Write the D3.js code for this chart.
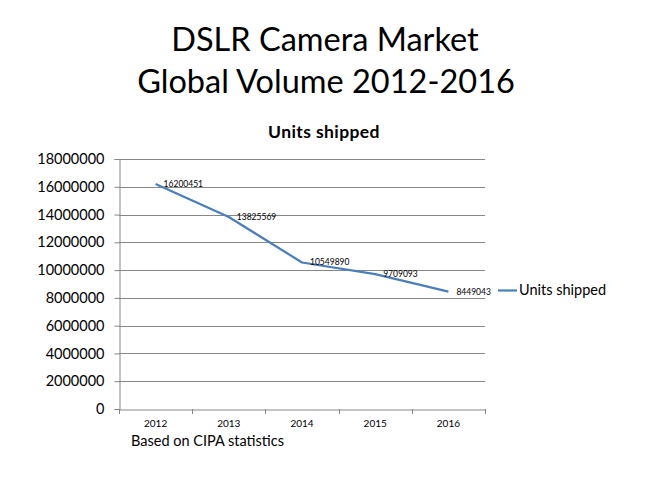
<!DOCTYPE html>
<html><head><meta charset="utf-8">
<script src="https://cdn.jsdelivr.net/npm/d3@7"></script>
<style>body{margin:0;background:#fff}svg{display:block}text{font-family:Lato,"Open Sans",sans-serif}</style>
</head><body><svg id="c" width="650" height="487"></svg>
<script>
const years = ["2012","2013","2014","2015","2016"];
const units = [16200451, 13825569, 10549890, 9709093, 8449043];
const yTicks = [0,2000000,4000000,6000000,8000000,10000000,12000000,14000000,16000000,18000000];
const seriesName = "Units shipped";

const svg = d3.select("#c");
const m = {l:119, r:485, t:159, b:409};
const x = d3.scaleBand().domain(years).range([m.l, m.r]);
const y = d3.scaleLinear().domain([0,18000000]).range([m.b, m.t]);
const grid = "#878787";

svg.append("text").attr("x",325).attr("y",51).attr("text-anchor","middle").attr("font-size",32.5).attr("fill","#000").text("DSLR Camera Market");
svg.append("text").attr("x",326).attr("y",93).attr("text-anchor","middle").attr("font-size",32.5).attr("fill","#000").text("Global Volume 2012-2016");
svg.append("text").attr("x",324).attr("y",138).attr("text-anchor","middle").attr("font-size",17.5).attr("letter-spacing",0.4).attr("font-weight","bold").text(seriesName);

// gridlines
svg.append("g").selectAll("line").data(yTicks.slice(1)).join("line")
  .attr("x1",m.l).attr("x2",m.r).attr("y1",d=>Math.round(y(d))+0.5).attr("y2",d=>Math.round(y(d))+0.5)
  .attr("stroke",grid).attr("stroke-width",1);

const ya = svg.append("g").attr("transform",`translate(${m.l+0.5},0)`)
  .call(d3.axisLeft(y).tickValues(yTicks).tickFormat(d=>String(d)).tickSizeOuter(0).tickSize(5).tickPadding(10));
ya.select(".domain").attr("stroke",grid);
ya.selectAll(".tick line").attr("stroke",grid);
ya.selectAll(".tick text").attr("font-size",14.5).attr("fill","#000").style("font-family","Lato,sans-serif");

const xa = svg.append("g").attr("transform",`translate(0,${m.b+0.5})`)
  .call(d3.axisBottom(x).tickSize(0).tickPadding(10).tickSizeOuter(0));
xa.select(".domain").attr("stroke",grid);
xa.selectAll(".tick text").attr("font-size",10).attr("fill","#000").style("font-family","Lato,sans-serif");
// category boundary ticks
const bounds = years.map(d=>x(d)).concat([m.r]);
svg.append("g").selectAll("line").data(bounds).join("line")
  .attr("x1",d=>Math.round(d)+0.5).attr("x2",d=>Math.round(d)+0.5).attr("y1",m.b).attr("y2",m.b+5).attr("stroke",grid);

const cx = d=>x(d)+x.bandwidth()/2;
const line = d3.line().x((d,i)=>cx(years[i])).y(d=>y(d));
svg.append("path").datum(units).attr("d",line).attr("fill","none").attr("stroke","#4A7EBB").attr("stroke-width",2.2).attr("stroke-linejoin","round");

svg.append("g").selectAll("text").data(units).join("text")
  .attr("x",(d,i)=>cx(years[i])+8).attr("y",d=>y(d)+3).attr("font-size",8.5).attr("fill","#000").text(d=>d);

// legend
svg.append("line").attr("x1",498).attr("x2",517).attr("y1",290.5).attr("y2",290.5).attr("stroke","#4A7EBB").attr("stroke-width",2.2);
svg.append("text").attr("x",519).attr("y",295).attr("font-size",14.5).text(seriesName);

svg.append("text").attr("x",131).attr("y",446).attr("font-size",14.5).text("Based on CIPA statistics");
</script></body></html>
